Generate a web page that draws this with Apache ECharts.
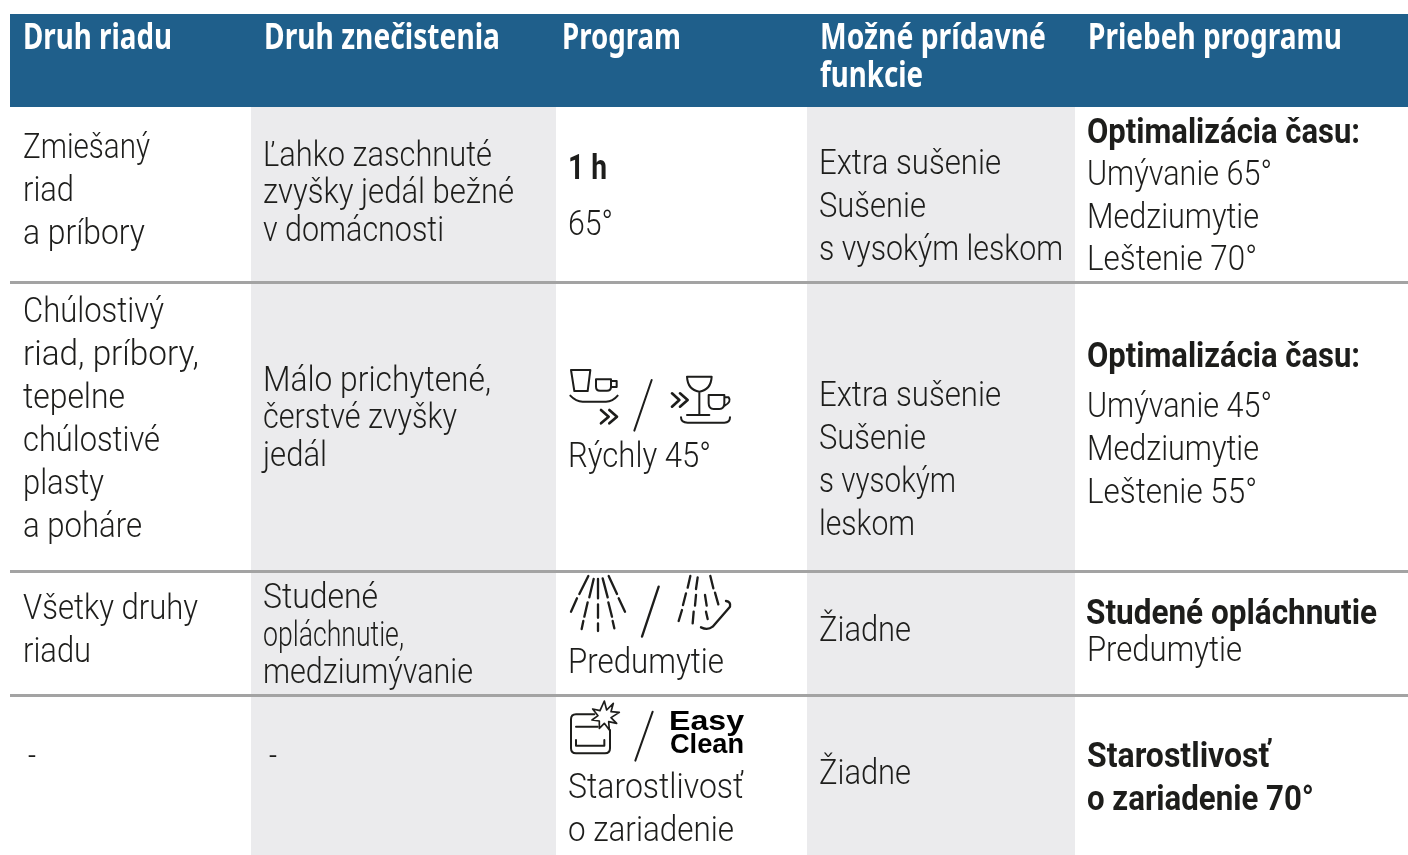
<!DOCTYPE html>
<html><head><meta charset="utf-8">
<style>html,body{margin:0;padding:0;background:#fff}#c{width:1408px;height:855px}</style>
<script src="https://cdn.jsdelivr.net/npm/echarts@6/dist/echarts.min.js"></script>
</head><body><div id="c"></div>
<script>
// ---- table content ----
var headerLines = ['Druh riadu','Druh znečistenia','Program','Možné prídavné','funkcie','Priebeh programu'];
var col1Lines = ['Zmiešaný','riad','a príbory','Chúlostivý','riad, príbory,','tepelne','chúlostivé','plasty','a poháre','Všetky druhy','riadu','-'];
var col2Lines = ['Ľahko zaschnuté','zvyšky jedál bežné','v domácnosti','Málo prichytené,','čerstvé zvyšky','jedál','Studené','opláchnutie,','medziumývanie','-'];
var col3Lines = ['1 h','65°','Rýchly 45°','Predumytie','Starostlivosť','o zariadenie'];
var col4Lines = ['Extra sušenie','Sušenie','s vysokým leskom','Extra sušenie','Sušenie','s vysokým','leskom','Žiadne','Žiadne'];
var col5Lines = ['Optimalizácia času:','Umývanie 65°','Medziumytie','Leštenie 70°','Optimalizácia času:','Umývanie 45°','Medziumytie','Leštenie 55°','Studené opláchnutie','Predumytie','Starostlivosť','o zariadenie 70°'];
var badgeLines = ['Easy','Clean'];

// ---- layout: [left, centre y, fitted width] for each text line, parallel to the lists above ----
var headerPos = [[23,39,149],[264,39,236],[562,39,119],[820,39,226],[820,77,103],[1088,39,254]];
var col1Pos = [[23,149,127],[23,192,51],[23,235,122],[23,313,141],[23,356,176],[23,399,102],[23,442,137],[23,485,81],[23,528,119],[23,610,175],[23,653,68],[28,758,8]];
var col2Pos = [[263,157,229],[263,194,251],[263,232,181],[263,382,228],[263,419,194],[263,457,64],[263,599,115],[263,637,141],[263,674,210],[269,758,8]];
var col3Pos = [[568,170,39],[568,226,45],[568,458,143],[568,664,156],[568,789,176],[568,832,166]];
var col4Pos = [[819,165,182],[819,208,107],[819,251,244],[819,397,182],[819,440,107],[819,483,137],[819,526,96],[819,632,92],[819,775,92]];
var col5Pos = [[1087,134,273],[1087,176,185],[1087,219,172],[1087,261,170],[1087,358,273],[1087,408,185],[1087,451,172],[1087,494,170],[1086,615,291],[1087,652,155],[1087,758,183],[1087,801,227]];
var badgePos = [[669,723,75],[670,746,74]];
var boldCol3 = {0:1}, boldCol5 = {0:1,4:1,8:1,10:1,11:1};

// bands and rules, in picture units
var headerBand = [10,14,1408,107];
var grayBands = [[251,107,556,855],[807,107,1075,855]];
var rules = [282.5,571.5,695.5];
var ruleLeft = 10, ruleRight = 1408;

var C = {head:'#1f5f8b', gray:'#ebebed', rule:'#a3a3a3', ink:'#1d1d1b'};
var SIZE = 35;
var FONT = 'Roboto';
var ctx = document.createElement('canvas').getContext('2d');
function measure(t,w,s,f){ctx.font=w+' '+s+'px "'+f+'"';return ctx.measureText(t).width;}

// ---- icons (pen paths in 3x crop units, anchored to crop origin) ----
var icons = [
 {o:[556,360], w:6, d:'M45 30H103L95 93H55ZM120 58H165V80Q165 92 153 92H132Q120 92 120 80ZM165 63H182V81H165M43 107Q60 125 80 125H150Q170 125 185 107M287 60L235 212M393 50H467Q465 90 430 95Q395 90 393 50ZM430 95V165M393 165H460M458 105H505V130Q505 147 490 147H473Q458 147 458 130ZM505 112H518Q528 125 505 138M375 172Q375 188 395 188H505Q522 188 522 172'},
 {o:[556,360], w:8, d:'M135 150L158 170L135 190M160 150L183 170L160 190M348 100L370 120L348 140M372 100L395 120L372 140'},
 {o:[556,565], w:7, d:'M97 33L70 87M113 42L100 97M126 42V100M140 40L155 97M158 33L183 87M63 100L45 140M95 112L85 155M126 118V158M157 112L168 155M188 100L207 140M82 168L77 192M126 175V198M170 168L175 190M403 33L395 68M425 37L420 72M463 33L472 70M390 85L381 120M420 90L417 122M447 90L452 122M477 83L487 118M378 135L368 168M413 140L410 175M450 140L455 162M510 108Q525 110 522 125L470 185Q455 197 435 187M308 65L258 215'},
 {o:[556,695], w:6, d:'M115 58H60Q45 58 45 73V160Q45 175 60 175H147Q162 175 162 160V105M60 95H125M60 135V152H145V135M290 50L238 197'},
 {o:[556,695], w:5, d:'M145 18L152 45L172 25L165 50L190 52L165 68L182 85L158 80L160 105L145 85L130 100L130 78L108 75L126 62L110 42L132 47Z'}
];

// one list per kind of mark, drawn by a custom series on hidden pixel-scaled value axes
var marks = [];
grayBands.forEach(function(b){marks.push({k:'rect',b:b,c:C.gray});});
marks.push({k:'rect',b:headerBand,c:C.head});
rules.forEach(function(y){marks.push({k:'rule',y:y});});
function addLines(lines,pos,opt){lines.forEach(function(t,i){
  var bold = opt.bold && opt.bold[i];
  marks.push({k:'text',t:t,p:pos[i],w:(opt.all||bold)?700:300,c:opt.c||C.ink,f:opt.f||FONT,s:opt.s||SIZE});
});}
addLines(headerLines,headerPos,{all:1,c:'#ffffff',f:'Noto Sans'});
addLines(col1Lines,col1Pos,{});
addLines(col2Lines,col2Pos,{});
addLines(col3Lines,col3Pos,{bold:boldCol3});
addLines(col4Lines,col4Pos,{});
addLines(col5Lines,col5Pos,{bold:boldCol5});
addLines(badgeLines,badgePos,{all:1,c:'#000000',f:'Liberation Sans',s:27});
icons.forEach(function(ic){marks.push({k:'icon',ic:ic});});

var chart = echarts.init(document.getElementById('c'),null,{renderer:'canvas'});
chart.setOption({
  animation:false,
  grid:{left:0,right:0,top:0,bottom:0},
  xAxis:{type:'value',min:0,max:1408,show:false},
  yAxis:{type:'value',min:0,max:855,inverse:true,show:false},
  series:[{
    type:'custom',
    coordinateSystem:'cartesian2d',
    clip:false,silent:true,
    data:marks.map(function(m,i){return [i,0];}),
    encode:{x:0,y:1},
    renderItem:function(params,api){
      var m = marks[api.value(0)];
      if(m.k==='rect'){
        var a=api.coord([m.b[0],m.b[1]]),b=api.coord([m.b[2],m.b[3]]);
        return {type:'rect',shape:{x:a[0],y:a[1],width:b[0]-a[0],height:b[1]-a[1]},style:{fill:m.c}};
      }
      if(m.k==='rule'){
        var l=api.coord([ruleLeft,m.y]),r=api.coord([ruleRight,m.y]);
        return {type:'line',shape:{x1:l[0],y1:l[1],x2:r[0],y2:r[1]},style:{stroke:C.rule,lineWidth:3}};
      }
      if(m.k==='text'){
        var p=api.coord([m.p[0],m.p[1]]);
        var sx=m.p[2]/measure(m.t,m.w,m.s,m.f);
        return {type:'text',x:p[0],y:p[1],scaleX:sx,style:{text:m.t,fill:m.c,font:m.w+' '+m.s+'px "'+m.f+'"',textAlign:'left',textVerticalAlign:'middle'}};
      }
      var o=api.coord(m.ic.o);
      return {type:'path',x:o[0],y:o[1],scaleX:1/3,scaleY:1/3,shape:{pathData:m.ic.d,layout:'none'},style:{fill:null,stroke:C.ink,lineWidth:m.ic.w,lineCap:'round',lineJoin:'round'}};
    }
  }]
});
</script></body></html>
